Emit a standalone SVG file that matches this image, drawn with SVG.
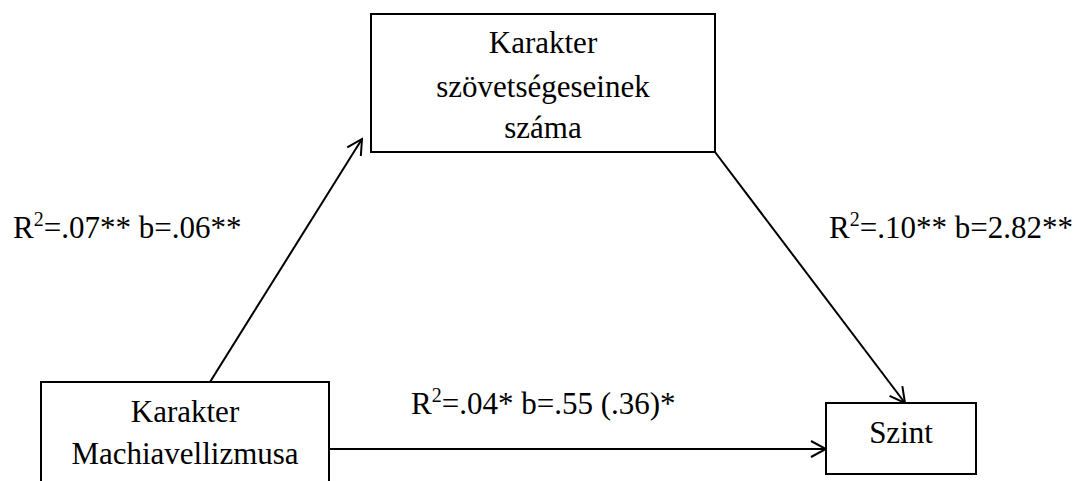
<svg xmlns="http://www.w3.org/2000/svg" width="1082" height="481" viewBox="0 0 1082 481">
<style>
.box{fill:#fff;stroke:#000;stroke-width:2}
.t{font-family:'Liberation Serif',Tinos,'Times New Roman','DejaVu Serif',serif;font-size:31px;fill:#000}
.c{text-anchor:middle}
.ln{stroke:#000;stroke-width:2;fill:none}
</style>
<defs>
<marker id="ah" viewBox="0 0 20 20" refX="18" refY="10" markerWidth="20" markerHeight="20" markerUnits="userSpaceOnUse" orient="auto">
<path d="M3,2 L18,10 L3,18" fill="none" stroke="#000" stroke-width="2"/>
</marker>
</defs>
<rect width="1082" height="481" fill="#fff"/>
<g id="connectors">
<line class="ln" x1="210" y1="382" x2="362" y2="139" marker-end="url(#ah)"/>
<line class="ln" x1="715" y1="152" x2="905" y2="403" marker-end="url(#ah)"/>
<line class="ln" x1="329" y1="449" x2="826" y2="449" marker-end="url(#ah)"/>
</g>
<g id="node-allies">
<rect class="box" x="371" y="14" width="344" height="138"/>
<text class="t c" x="543" y="53" font-family="Liberation Serif, serif">Karakter</text>
<text class="t c" x="543" y="97" font-family="Liberation Serif, serif">szövetségeseinek</text>
<text class="t c" x="543" y="138" font-family="Liberation Serif, serif">száma</text>
</g>
<g id="node-mach">
<rect class="box" x="41" y="382" width="288" height="110"/>
<text class="t c" x="185" y="422" font-family="Liberation Serif, serif">Karakter</text>
<text class="t c" x="185" y="464" font-family="Liberation Serif, serif">Machiavellizmusa</text>
</g>
<g id="node-szint">
<rect class="box" x="826" y="403" width="150" height="71"/>
<text class="t c" x="901" y="443" font-family="Liberation Serif, serif">Szint</text>
</g>
<g id="labels">
<text class="t" x="13" y="238" font-family="Liberation Serif, serif">R<tspan font-size="20" dy="-12">2</tspan><tspan dy="12">=.07** b=.06**</tspan></text>
<text class="t" x="829" y="238" font-family="Liberation Serif, serif">R<tspan font-size="20" dy="-12">2</tspan><tspan dy="12">=.10** b=2.82**</tspan></text>
<text class="t" x="411" y="414" font-family="Liberation Serif, serif">R<tspan font-size="20" dy="-12">2</tspan><tspan dy="12">=.04* b=.55 (.36)*</tspan></text>
</g>
</svg>
